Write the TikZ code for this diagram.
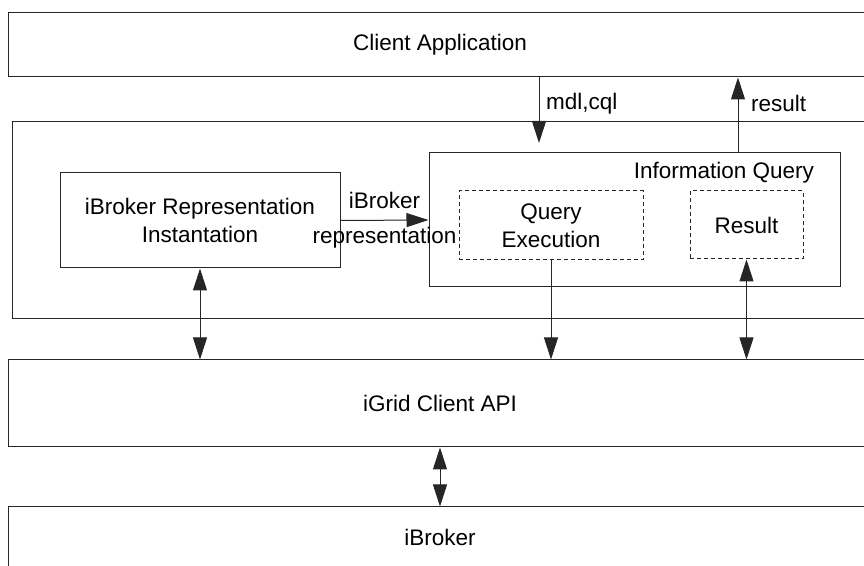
\documentclass[tikz,border=0pt]{standalone}
\usepackage{fontspec}
\setmainfont{Liberation Sans}
\usetikzlibrary{arrows.meta}

\begin{document}
\begin{tikzpicture}[x=0.5pt, y=-0.5pt, line width=0.5pt, draw=black!85,
    font=\fontsize{11.25}{14}\selectfont,
    box/.style={draw, inner sep=0pt, align=center},
    inbox/.style={box, dash pattern=on 2pt off 1.5pt},
    arr/.style={-{Triangle[length=11pt,width=7pt]}},
    biarr/.style={{Triangle[length=11pt,width=7pt]}-{Triangle[length=11pt,width=7pt]}}]
    \clip (0,0) rectangle (864,566);

    \node[box, minimum width=432pt, minimum height=32pt] (client) at (440,45) {Client Application};
    \node[box, minimum width=428pt, minimum height=98.5pt] (mid) at (440,220.5) {};
    \node[box, minimum width=140pt, minimum height=47.5pt] (rep) at (200,220.5)
        {iBroker Representation\\Instantation};
    \node[box, minimum width=205.5pt, minimum height=67pt] (iq) at (634.5,220) {};
    \node[anchor=east] (iqname) at (821,173) {Information Query};
    \node[inbox, minimum width=92pt, minimum height=34.5pt] (qe) at (551,225.5) {Query\\Execution};
    \node[inbox, minimum width=56.5pt, minimum height=34pt] (res) at (746.5,225) {Result};
    \node[box, minimum width=432pt, minimum height=43.5pt] (api) at (440,403.5) {iGrid Client API};
    \node[box, minimum width=432pt, minimum height=30.5pt] (broker) at (440,537.5) {iBroker};

    \coordinate (qin) at (539,143);
    \coordinate (rout) at (738,0);
    \coordinate (hub) at (440,0);

    \draw[arr] (client.south -| qin) -- node[right, pos=0.4] {mdl,cql} (qin);
    \draw[arr] (iq.north -| rout) -- node[right, pos=0.66, xshift=3pt] {result} (client.south -| rout);
    \draw[arr] (rep.east) -- node[above, yshift=2pt] {iBroker} node[below] {representation} (iq.west);
    \draw[biarr] (rep.south) -- (rep.south |- api.north);
    \draw[arr] (qe.south) -- (qe.south |- api.north);
    \draw[biarr] (res.south) -- (res.south |- api.north);
    \draw[biarr] (api.south -| hub) -- (broker.north -| hub);
\end{tikzpicture}
\end{document}
